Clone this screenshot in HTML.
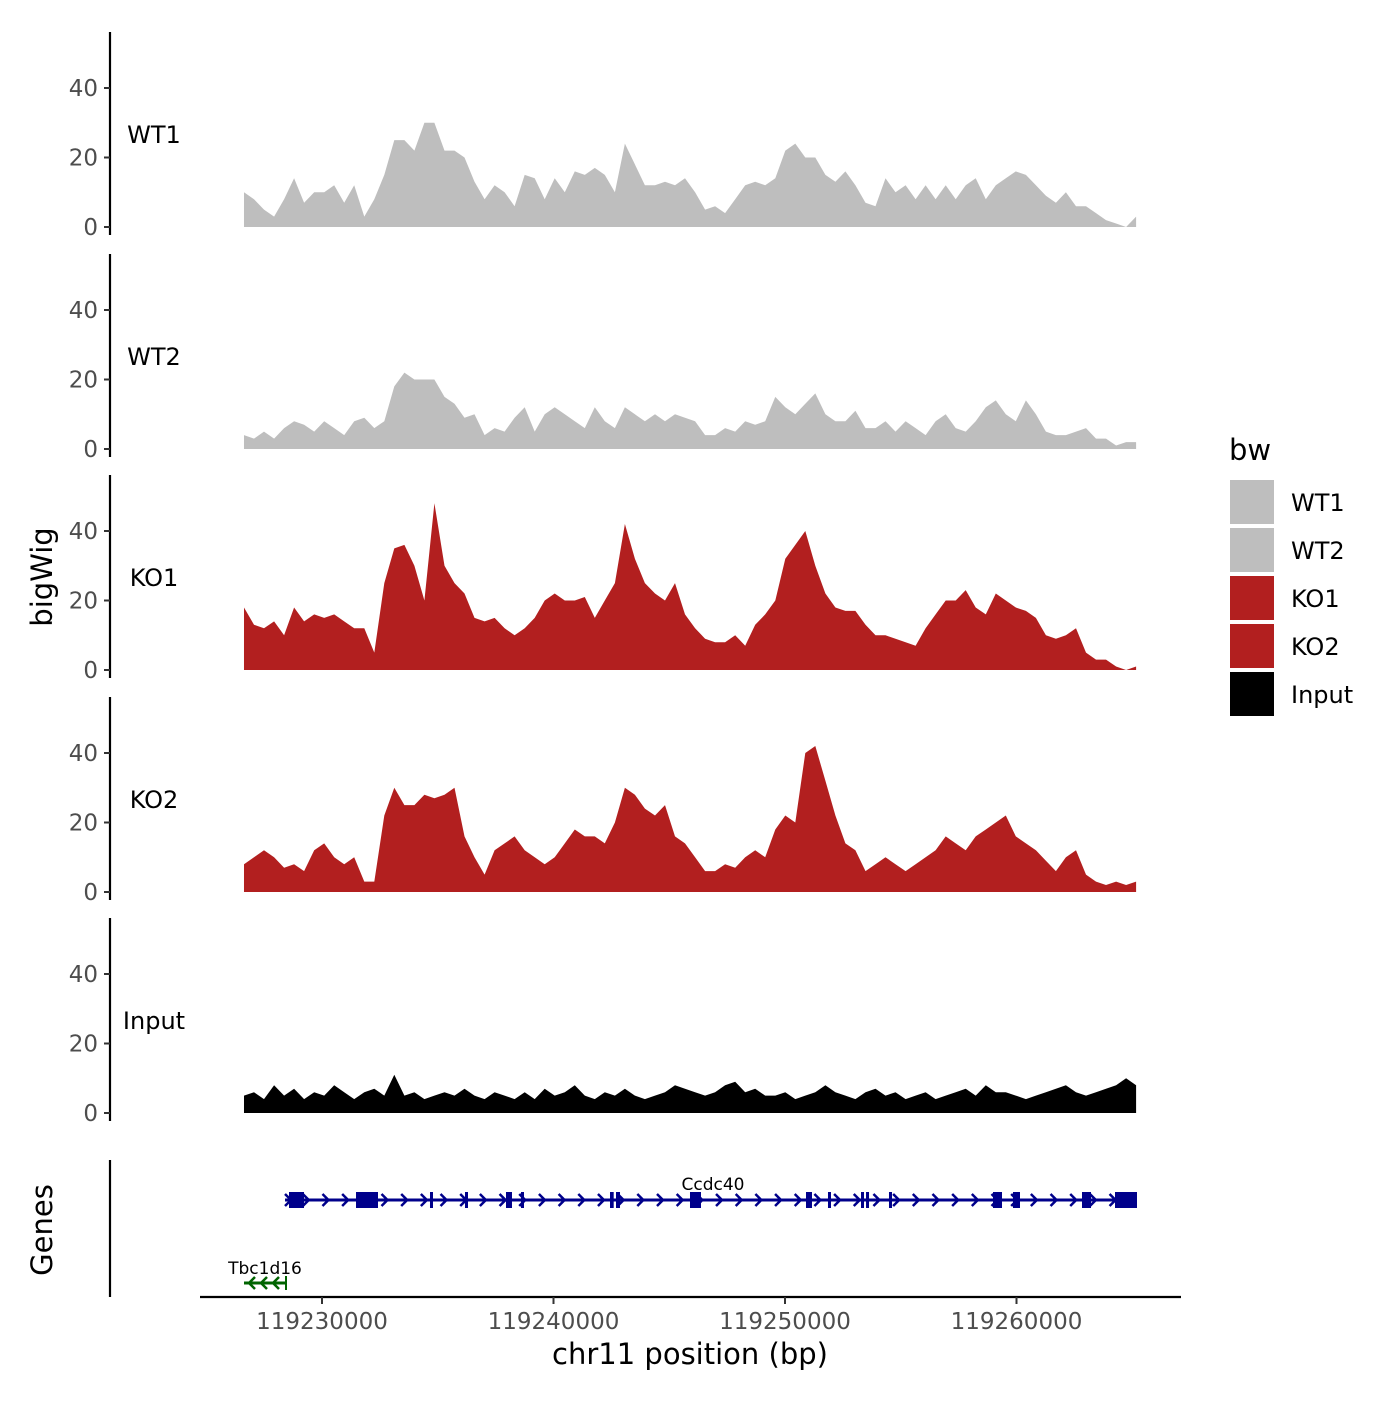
<!DOCTYPE html>
<html><head><meta charset="utf-8"><style>
body{margin:0;background:#fff}
svg text{font-family:"DejaVu Sans","Liberation Sans",sans-serif}
</style></head><body>
<svg id="chart" width="1400" height="1400" xmlns="http://www.w3.org/2000/svg">
<rect width="1400" height="1400" fill="#fff"/>
<g id="tracks"></g>
<g id="genes"></g>
<g id="xaxis"></g>
<text x="52" y="577" font-size="29" text-anchor="middle" transform="rotate(-90 52 577)">bigWig</text>
<text x="52" y="1230" font-size="29" text-anchor="middle" transform="rotate(-90 52 1230)">Genes</text>
<text x="690" y="1364" font-size="29" text-anchor="middle">chr11 position (bp)</text>
<g id="legend"></g>
</svg>
<script>
const trackNames=["WT1","WT2","KO1","KO2","Input"];
const trackColors=["#bebebe","#bebebe","#b21f1f","#b21f1f","#000000"];
const yTicks=[0,20,40];
const xTicks=[119230000,119240000,119250000,119260000];
const xTickLabels=["119230000","119240000","119250000","119260000"];
const startBp=119226630, stepBp=433;
const wt1=[10,8,5,3,8,14,7,10,10,12,7,12,3,8,15,25,25,22,30,30,22,22,20,13,8,12,10,6,15,14,8,14,10,16,15,17,15,10,24,18,12,12,13,12,14,10,5,6,4,8,12,13,12,14,22,24,20,20,15,13,16,12,7,6,14,10,12,8,12,8,12,8,12,14,8,12,14,16,15,12,9,7,10,6,6,4,2,1,0,3];
const wt2=[4,3,5,3,6,8,7,5,8,6,4,8,9,6,8,18,22,20,20,20,15,13,9,10,4,6,5,9,12,5,10,12,10,8,6,12,8,6,12,10,8,10,8,10,9,8,4,4,6,5,8,7,8,15,12,10,13,16,10,8,8,11,6,6,8,5,8,6,4,8,10,6,5,8,12,14,10,8,14,10,5,4,4,5,6,3,3,1,2,2];
const ko1=[18,13,12,14,10,18,14,16,15,16,14,12,12,5,25,35,36,30,20,48,30,25,22,15,14,15,12,10,12,15,20,22,20,20,21,15,20,25,42,32,25,22,20,25,16,12,9,8,8,10,7,13,16,20,32,36,40,30,22,18,17,17,13,10,10,9,8,7,12,16,20,20,23,18,16,22,20,18,17,15,10,9,10,12,5,3,3,1,0,1];
const ko2=[8,10,12,10,7,8,6,12,14,10,8,10,3,3,22,30,25,25,28,27,28,30,16,10,5,12,14,16,12,10,8,10,14,18,16,16,14,20,30,28,24,22,25,16,14,10,6,6,8,7,10,12,10,18,22,20,40,42,32,22,14,12,6,8,10,8,6,8,10,12,16,14,12,16,18,20,22,16,14,12,9,6,10,12,5,3,2,3,2,3];
const input=[5,6,4,8,5,7,4,6,5,8,6,4,6,7,5,11,5,6,4,5,6,5,7,5,4,6,5,4,6,4,7,5,6,8,5,4,6,5,7,5,4,5,6,8,7,6,5,6,8,9,6,7,5,5,6,4,5,6,8,6,5,4,6,7,5,6,4,5,6,4,5,6,7,5,8,6,6,5,4,5,6,7,8,6,5,6,7,8,10,8];
const series=[wt1,wt2,ko1,ko2,input];
const geneStart=119228402, geneEnd=119265205;
const geneExons=[[119228575,119229222],[119231469,119232419],[119234665,119234752],[119236177,119236264],[119237948,119238207],[119238596,119238639],[119242441,119242600],[119242700,119242873],[119245896,119246371],[119250907,119251166],[119251857,119251987],[119253283,119253400],[119253500,119253629],[119254492,119254536],[119258985,119259374],[119259849,119260151],[119262829,119263218],[119264255,119265205]];
const NS="http://www.w3.org/2000/svg";
const xs=v=>322+(v-119230000)*0.02315;
const zeros=[227,449,670,892,1113], pxu=139/40;
function mk(t,a,p){const e=document.createElementNS(NS,t);for(const k in a)e.setAttribute(k,a[k]);(p||document.getElementById('chart')).appendChild(e);return e;}
const tg=document.getElementById('tracks');
series.forEach((vals,i)=>{
 const z=zeros[i], ys=v=>z-v*pxu;
 const g=mk('g',{},tg);
 
 
 let d='M'+xs(startBp)+','+z;
 vals.forEach((v,j)=>{d+=' L'+xs(startBp+j*stepBp).toFixed(1)+','+ys(v).toFixed(1);});
 d+=' L'+xs(startBp+(vals.length-1)*stepBp).toFixed(1)+','+z+' Z';
 const p=mk('path',{d:d,fill:trackColors[i]},g);
 
 
 const ax=mk('line',{x1:110,x2:110,y1:z-195,y2:z+8,stroke:'#000','stroke-width':2.2},g);
 
 
 yTicks.forEach(t=>{
  mk('line',{x1:104,x2:110,y1:ys(t),y2:ys(t),stroke:'#333','stroke-width':2},g);
  const tx=mk('text',{x:98,y:ys(t)+8,'font-size':23,'text-anchor':'end',fill:'#4d4d4d'},g);
  tx.textContent=t;
  
  
 });
 const lb=mk('text',{x:154,y:z-84,'font-size':24,'text-anchor':'middle'},g);
 lb.textContent=trackNames[i];
 
 
});
// genes
const gg=document.getElementById('genes');
mk('line',{x1:110,x2:110,y1:1160,y2:1297,stroke:'#000','stroke-width':2.2},gg);
mk('line',{x1:xs(geneStart),x2:xs(geneEnd),y1:1200,y2:1200,stroke:'#00008b','stroke-width':3},gg);
for(let b=119229300;b<119265000;b+=850){const x=xs(b);mk('path',{d:`M${x-3},1194 L${x+3},1200 L${x-3},1206`,fill:'none',stroke:'#00008b','stroke-width':2.5},gg);}
mk('path',{d:`M${xs(geneStart)},1194 L${xs(geneStart)+6},1200 L${xs(geneStart)},1206`,fill:'none',stroke:'#00008b','stroke-width':2.5},gg);
geneExons.forEach(e=>{const r=mk('rect',{x:xs(e[0]),y:1192,width:Math.max(3,xs(e[1])-xs(e[0])),height:16,fill:'#00008b'},gg);});
let t=mk('text',{x:713,y:1190,'font-size':17,'text-anchor':'middle'},gg);t.textContent='Ccdc40';


mk('line',{x1:244,x2:287,y1:1283,y2:1283,stroke:'#006400','stroke-width':3},gg);
[250,262,274].forEach(x=>mk('path',{d:`M${x+5},1277 L${x-1},1283 L${x+5},1289`,fill:'none',stroke:'#006400','stroke-width':2.5},gg));
mk('line',{x1:286,x2:286,y1:1276,y2:1290,stroke:'#006400','stroke-width':2},gg);
t=mk('text',{x:265,y:1274,'font-size':17,'text-anchor':'middle'},gg);t.textContent='Tbc1d16';


// x axis
const xg=document.getElementById('xaxis');
mk('line',{x1:200,x2:1181,y1:1297,y2:1297,stroke:'#000','stroke-width':2.2},xg);
xTicks.forEach((v,i)=>{mk('line',{x1:xs(v),x2:xs(v),y1:1297,y2:1304,stroke:'#333','stroke-width':2},xg);
 const tx=mk('text',{x:xs(v),y:1329,'font-size':23,'text-anchor':'middle',fill:'#4d4d4d'},xg);tx.textContent=xTickLabels[i];
 
 });
// legend
const lg=document.getElementById('legend');
t=mk('text',{x:1229,y:460,'font-size':29},lg);t.textContent='bw';
trackNames.forEach((n,i)=>{const y=480+i*48;
 const r=mk('rect',{x:1230,y:y,width:44,height:44,fill:trackColors[i]},lg);
 
 
 const tx=mk('text',{x:1291,y:y+31,'font-size':24},lg);tx.textContent=n;
 
 });
</script>
</body></html>
